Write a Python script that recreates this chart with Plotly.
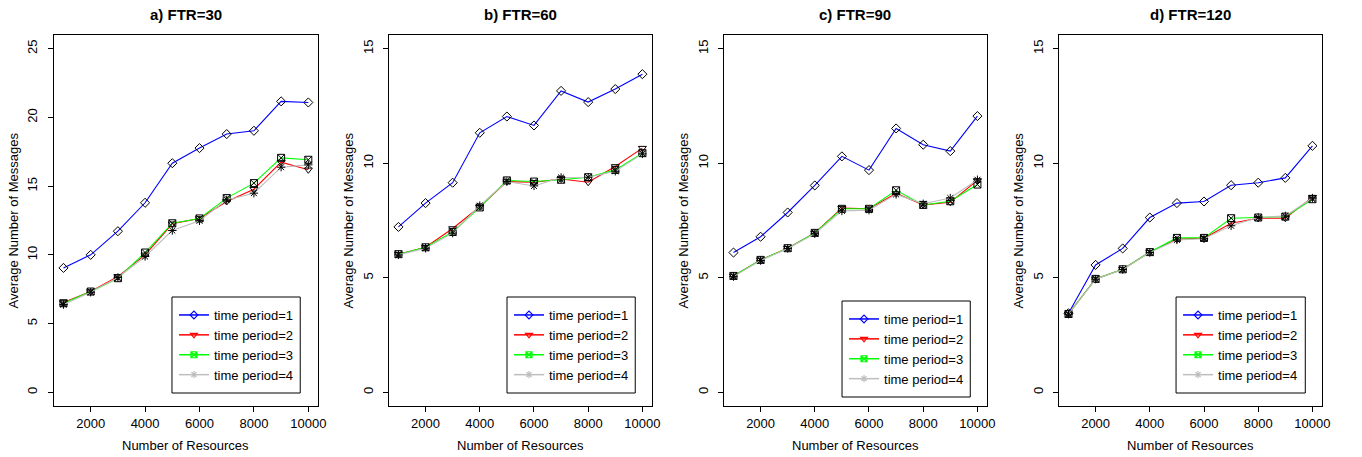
import plotly.graph_objects as go

W, H = 1362, 457

resources = [1000, 2000, 3000, 4000, 5000, 6000, 7000, 8000, 9000, 10000]
series_names = ["time period=1", "time period=2", "time period=3", "time period=4"]
panel_titles = ["a) FTR=30", "b) FTR=60", "c) FTR=90", "d) FTR=120"]
x_ticks = [2000, 4000, 6000, 8000, 10000]

ftr30_p1 = [9.05, 10.0, 11.72, 13.79, 16.67, 17.77, 18.79, 19.03, 21.17, 21.09]
ftr30_p2 = [6.53, 7.33, 8.42, 10.0, 12.26, 12.65, 13.88, 14.78, 16.75, 16.19]
ftr30_p3 = [6.48, 7.33, 8.30, 10.17, 12.30, 12.65, 14.13, 15.22, 17.06, 16.92]
ftr30_p4 = [6.38, 7.28, 8.35, 9.88, 11.77, 12.48, 14.0, 14.49, 16.38, 16.55]

ftr60_p1 = [7.22, 8.26, 9.15, 11.33, 12.04, 11.65, 13.16, 12.67, 13.24, 13.89]
ftr60_p2 = [6.03, 6.33, 7.15, 8.10, 9.20, 9.17, 9.31, 9.17, 9.86, 10.66]
ftr60_p3 = [6.03, 6.33, 7.00, 8.07, 9.25, 9.20, 9.28, 9.39, 9.71, 10.44]
ftr60_p4 = [6.00, 6.29, 6.95, 8.15, 9.20, 9.01, 9.38, 9.39, 9.65, 10.41]

ftr90_p1 = [6.10, 6.79, 7.85, 9.03, 10.30, 9.70, 11.52, 10.81, 10.53, 12.06]
ftr90_p2 = [5.08, 5.78, 6.29, 6.96, 8.04, 8.01, 8.69, 8.18, 8.30, 9.25]
ftr90_p3 = [5.08, 5.78, 6.29, 6.96, 8.01, 8.01, 8.82, 8.18, 8.34, 9.07]
ftr90_p4 = [5.05, 5.75, 6.28, 6.92, 7.92, 7.95, 8.64, 8.23, 8.48, 9.28]

ftr120_p1 = [3.45, 5.56, 6.28, 7.63, 8.26, 8.33, 9.04, 9.15, 9.36, 10.76]
ftr120_p2 = [3.42, 4.95, 5.37, 6.12, 6.68, 6.73, 7.38, 7.60, 7.60, 8.52]
ftr120_p3 = [3.42, 4.95, 5.37, 6.12, 6.74, 6.74, 7.60, 7.63, 7.67, 8.43]
ftr120_p4 = [3.41, 4.94, 5.36, 6.10, 6.65, 6.70, 7.27, 7.63, 7.70, 8.48]

panels = [
    [ftr30_p1, ftr30_p2, ftr30_p3, ftr30_p4],
    [ftr60_p1, ftr60_p2, ftr60_p3, ftr60_p4],
    [ftr90_p1, ftr90_p2, ftr90_p3, ftr90_p4],
    [ftr120_p1, ftr120_p2, ftr120_p3, ftr120_p4],
]
y_max = [25, 15, 15, 15]

line_colors = ["#0000FF", "#FF0000", "#00FF00", "#BEBEBE"]
symbols = ["diamond-open", "triangle-down-open", "square-x-open", "asterisk-open"]
legend_symbols = ["diamond-open", "triangle-down-open", "square-x-open", "asterisk-open"]

# pixel geometry
box_x = [(54, 320), (391, 656), (728, 993), (1065, 1330)]
box_top, box_bot = 35, 406
legend_boxes = [(173, 297, 302, 393), (510, 297, 639, 393), (847, 301, 976, 397), (1183, 297, 1313, 393)]

FONT = "Liberation Sans, Arial, Helvetica, sans-serif"
FS = 13

def px(x):
    return x / W

def py(y):
    return 1 - y / H

fig = go.Figure()
layout = dict(
    width=W, height=H,
    margin=dict(l=0, r=0, t=0, b=0),
    paper_bgcolor="white", plot_bgcolor="white",
    font=dict(family=FONT, size=FS, color="black"),
    annotations=[], shapes=[],
)

for i, data in enumerate(panels):
    k = "" if i == 0 else str(i + 1)
    xa, ya = "x" + k, "y" + k
    leg = "legend" + k
    for j, vals in enumerate(data):
        fig.add_trace(go.Scatter(
            x=resources, y=vals, mode="lines+markers",
            line=dict(color=line_colors[j], width=1.1),
            marker=dict(symbol=symbols[j], color="black", size=7,
                        line=dict(color="black", width=1)),
            xaxis=xa, yaxis=ya, showlegend=False, hoverinfo="x+y",
        ))
    for j in range(4):
        fig.add_trace(go.Scatter(
            x=[None], y=[None], mode="lines+markers", name=series_names[j],
            line=dict(color=line_colors[j], width=1.5),
            marker=dict(symbol=legend_symbols[j], color=line_colors[j], size=6,
                        line=dict(color=line_colors[j], width=1.2)),
            xaxis=xa, yaxis=ya, legend=leg, showlegend=True,
        ))
    x0, x1 = box_x[i]
    ym = y_max[i]
    ext = ym * 0.04
    layout["xaxis" + k] = dict(
        domain=[px(x0), px(x1)], anchor=ya,
        range=[1000 - 360, 10000 + 360],
        tickvals=x_ticks, ticktext=[str(t) for t in x_ticks],
        ticks="outside", ticklen=5, tickwidth=1, tickcolor="black",
        showline=True, linecolor="black", linewidth=1, mirror=True,
        showgrid=False, zeroline=False,
        tickfont=dict(family=FONT, size=FS, color="black"),
    )
    layout["yaxis" + k] = dict(
        domain=[py(box_bot), py(box_top)], anchor=xa,
        range=[-ext, ym + ext],
        tickvals=list(range(0, ym + 1, 5)),
        ticks="outside", ticklen=5, tickwidth=1, tickcolor="black",
        tickangle=-90, ticklabelstandoff=5,
        showline=True, linecolor="black", linewidth=1, mirror=True,
        showgrid=False, zeroline=False,
        tickfont=dict(family=FONT, size=FS, color="black"),
    )
    lx0, ly0, lx1, ly1 = legend_boxes[i]
    layout[leg] = dict(
        x=px(lx0 + 2), y=py(ly0 + 3), xanchor="left", yanchor="top",
        xref="paper", yref="paper",
        bgcolor="rgba(0,0,0,0)", borderwidth=0,
        font=dict(family=FONT, size=FS, color="black"),
        itemwidth=30, tracegroupgap=0,
    )
    layout["shapes"].append(dict(
        type="rect", xref="paper", yref="paper",
        x0=px(lx0), x1=px(lx1), y0=py(ly1), y1=py(ly0),
        line=dict(color="black", width=1), fillcolor="rgba(0,0,0,0)",
    ))
    cx = (x0 + x1) / 2
    layout["annotations"].append(dict(
        text="<b>" + panel_titles[i] + "</b>", x=px(cx), y=py(15),
        xref="paper", yref="paper", showarrow=False,
        xanchor="center", yanchor="middle",
        font=dict(family=FONT, size=15, color="black"),
    ))
    layout["annotations"].append(dict(
        text="Number of Resources", x=px(cx), y=py(445),
        xref="paper", yref="paper", showarrow=False,
        xanchor="center", yanchor="middle",
        font=dict(family=FONT, size=FS, color="black"),
    ))
    layout["annotations"].append(dict(
        text="Average Number of Messages", x=px(x0 - 40), y=py((box_top + box_bot) / 2),
        xref="paper", yref="paper", showarrow=False, textangle=-90,
        xanchor="center", yanchor="middle",
        font=dict(family=FONT, size=FS, color="black"),
    ))

fig.update_layout(**layout)
fig.write_html("out.html")
